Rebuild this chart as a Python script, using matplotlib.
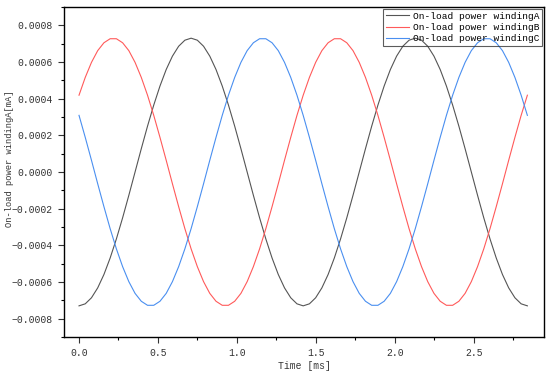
import matplotlib
matplotlib.use("Agg")
import matplotlib.pyplot as plt
import numpy as np
from matplotlib.ticker import MultipleLocator

plt.rcParams['font.family'] = ['Liberation Mono', 'DejaVu Sans']

# time axis [ms], 73 samples, 0 .. 2.84
t = np.linspace(0, 2.84, 73)

# values, in units of 1e-4 mA
wind_a = [-7.30, -7.19, -6.86, -6.32, -5.59, -4.69, -3.65, -2.50, -1.27, 0.00,
          1.27, 2.50, 3.65, 4.69, 5.59, 6.32, 6.86, 7.19, 7.30, 7.19,
          6.86, 6.32, 5.59, 4.69, 3.65, 2.50, 1.27, 0.00, -1.27, -2.50,
          -3.65, -4.69, -5.59, -6.32, -6.86, -7.19,
          -7.30, -7.19, -6.86, -6.32, -5.59, -4.69, -3.65, -2.50, -1.27, 0.00,
          1.27, 2.50, 3.65, 4.69, 5.59, 6.32, 6.86, 7.19, 7.30, 7.19,
          6.86, 6.32, 5.59, 4.69, 3.65, 2.50, 1.27, 0.00, -1.27, -2.50,
          -3.65, -4.69, -5.59, -6.32, -6.86, -7.19, -7.30]
wind_b = [4.19, 5.16, 5.98, 6.62, 7.05, 7.27, 7.27, 7.05, 6.62, 5.98,
          5.16, 4.19, 3.09, 1.89, 0.64, -0.64, -1.89, -3.09, -4.19, -5.16,
          -5.98, -6.62, -7.05, -7.27, -7.27, -7.05, -6.62, -5.98, -5.16, -4.19,
          -3.09, -1.89, -0.64, 0.64, 1.89, 3.09,
          4.19, 5.16, 5.98, 6.62, 7.05, 7.27, 7.27, 7.05, 6.62, 5.98,
          5.16, 4.19, 3.09, 1.89, 0.64, -0.64, -1.89, -3.09, -4.19, -5.16,
          -5.98, -6.62, -7.05, -7.27, -7.27, -7.05, -6.62, -5.98, -5.16, -4.19,
          -3.09, -1.89, -0.64, 0.64, 1.89, 3.09, 4.19]
wind_c = [3.09, 1.89, 0.64, -0.64, -1.89, -3.09, -4.19, -5.16, -5.98, -6.62,
          -7.05, -7.27, -7.27, -7.05, -6.62, -5.98, -5.16, -4.19, -3.09, -1.89,
          -0.64, 0.64, 1.89, 3.09, 4.19, 5.16, 5.98, 6.62, 7.05, 7.27,
          7.27, 7.05, 6.62, 5.98, 5.16, 4.19,
          3.09, 1.89, 0.64, -0.64, -1.89, -3.09, -4.19, -5.16, -5.98, -6.62,
          -7.05, -7.27, -7.27, -7.05, -6.62, -5.98, -5.16, -4.19, -3.09, -1.89,
          -0.64, 0.64, 1.89, 3.09, 4.19, 5.16, 5.98, 6.62, 7.05, 7.27,
          7.27, 7.05, 6.62, 5.98, 5.16, 4.19, 3.09]

labels = ['On-load power windingA', 'On-load power windingB', 'On-load power windingC']
colors = ['#555555', '#ff5a5a', '#4a8ff0']

fig = plt.figure(figsize=(5.5, 3.75), dpi=100)
ax = fig.add_axes([0.1164, 0.1013, 0.8726, 0.88])

for ys, lab, c in zip([wind_a, wind_b, wind_c], labels, colors):
    ax.plot(t, np.array(ys) * 1e-4, color=c, lw=0.8, label=lab)

ax.set_xlim(-0.095, 2.945)
ax.set_ylim(-0.0009, 0.0009)
ax.xaxis.set_major_locator(MultipleLocator(0.5))
ax.xaxis.set_minor_locator(MultipleLocator(0.25))
ax.yaxis.set_major_locator(MultipleLocator(0.0002))
ax.yaxis.set_minor_locator(MultipleLocator(0.0001))
ax.xaxis.set_major_formatter(matplotlib.ticker.FormatStrFormatter('%.1f'))
ax.yaxis.set_major_formatter(matplotlib.ticker.FuncFormatter(
    lambda v, p: ('%.4f' % v).replace('-', '\u2212') if abs(v) > 1e-12 else '0.0000'))
ax.tick_params(which='major', length=4, width=0.8, labelsize=7, colors='#333333', pad=4)
ax.tick_params(which='minor', length=2, width=0.8)
for s in ax.spines.values():
    s.set_linewidth(1.0)

ax.set_xlabel('Time [ms]', fontsize=7, labelpad=2, color='#333333')
ax.set_ylabel('On-load power windingA[mA]', fontsize=6.3, color='#333333', va='center')
ax.yaxis.set_label_coords(-0.113, 0.54)

leg = ax.legend(loc='upper right', bbox_to_anchor=(1.0, 1.0), fontsize=6.8,
                fancybox=False, edgecolor='#333333', facecolor='none',
                borderaxespad=0.2, handlelength=2.4, handletextpad=0.4,
                labelspacing=0.25, borderpad=0.3)
leg.get_frame().set_linewidth(0.8)

fig.savefig('out.png', dpi=100)
